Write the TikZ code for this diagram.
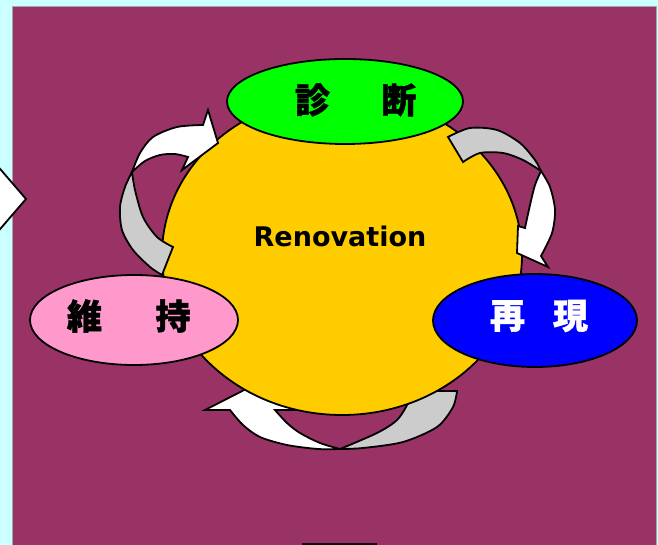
\documentclass[tikz,border=0pt]{standalone}
\usepackage{fontspec}
\newfontfamily\cjk{Noto Sans CJK JP}[FakeBold=1.2]
\newfontfamily\renofont{DejaVu Sans}
\usetikzlibrary{shapes.geometric}
\definecolor{bgcyan}{HTML}{CCFFFF}
\definecolor{maroon}{HTML}{993366}
\definecolor{sunyellow}{HTML}{FFCC00}
\definecolor{leafgreen}{HTML}{00FF00}
\definecolor{softpink}{HTML}{FF99CC}
\definecolor{deepblue}{HTML}{0000FF}
\definecolor{backgrey}{HTML}{CCCCCC}
\tikzset{
  outl/.style={draw=black, line width=1.8pt, line join=miter},
  wfill/.style={outl, fill=white},
  gfill/.style={outl, fill=backgrey},
  blob/.style={ellipse, outl, inner sep=0pt},
  cjktext/.style={font=\cjk\bfseries\fontsize{35}{35}\selectfont, inner sep=0pt}
}
\begin{document}
\begin{tikzpicture}[x=1pt,y=-1pt]
\useasboundingbox (0,0) rectangle (658,545);
\fill[bgcyan] (0,0) rectangle (658,545);
\fill[maroon] (12,6) rectangle (656,545);
\draw[gray!70, line width=0.6pt] (12,545) -- (12,6) -- (656,6) -- (656,545);
% left chevron
\filldraw[wfill] (-5,163) -- (26,199) -- (-5,235) -- cycle;
% bottom bar
\fill[black!85!maroon] (302,542.5) rectangle (377,546);

% bottom arrow (behind the yellow disc)
\filldraw[wfill] plot[smooth] coordinates {(340,449) (318,449) (287,445) (260,437) (243,425) (230,410)}
  -- (205,410) -- (252,386) -- (300,410) -- (275,410)
  -- plot[smooth] coordinates {(275,410) (287,423) (300,433) (320,443) (340,449)} -- cycle;
\filldraw[gfill] plot[smooth] coordinates {(340,449) (363,448) (403,442) (437,427) (453,407) (457,391)}
  -- (410,391)
  -- plot[smooth] coordinates {(410,391) (408,403) (397,420) (377,433) (340,449)} -- cycle;

% yellow disc
\node[blob, fill=sunyellow, minimum width=360pt, minimum height=320pt] (disc) at (342,255) {};

% upper-left arrow
\filldraw[gfill] plot[smooth] coordinates {(132,172) (125,187) (120,207) (122,230) (133,250) (150,267) (162,275)}
  -- (173,247)
  -- plot[smooth] coordinates {(173,247) (157,237) (143,217) (135,190) (132,172)} -- cycle;
\filldraw[wfill] plot[smooth] coordinates {(132,172) (140,153) (153,137) (177,127) (203,125)}
  -- (208,110) -- (218,143) -- (182,170) -- (188,157)
  -- plot[smooth] coordinates {(188,157) (175,154) (160,155) (145,161) (132,172)} -- cycle;

% upper-right arrow
\filldraw[gfill] plot[smooth] coordinates {(448,137) (470,128) (497,130) (520,143) (535,160) (541,171)}
  -- plot[smooth] coordinates {(541,171) (523,160) (503,153) (480,153) (463,162)} -- cycle;
\filldraw[wfill] plot[smooth] coordinates {(541,171) (550,187) (555,210) (552,233) (541,256)}
  -- (548,267) -- (517,253) -- (518,226) -- (525,228)
  -- plot[smooth] coordinates {(525,228) (530,205) (535,185) (541,171)} -- cycle;

% ellipses
\node[blob, fill=leafgreen, minimum width=236pt, minimum height=85pt] (diag) at (345,101.5) {};
\node[blob, fill=softpink, minimum width=208pt, minimum height=90pt] (maint) at (134,320) {};
\node[blob, fill=deepblue, minimum width=204pt, minimum height=93pt] (repro) at (535,320.5) {};

% texts
\node[cjktext] (shin) at (312.5,100) {診};
\node[cjktext] (dan) at (399,100) {断};
\node[cjktext] (i) at (84.5,316) {維};
\node[cjktext] (ji) at (173,316) {持};
\node[cjktext, text=white] (sai) at (507.5,316) {再};
\node[cjktext, text=white] (gen) at (570.5,316) {現};
\node[anchor=base, inner sep=0pt, font=\renofont\bfseries\fontsize{27}{27}\selectfont] (reno) at (340,247) {Renovation};
\end{tikzpicture}
\end{document}
